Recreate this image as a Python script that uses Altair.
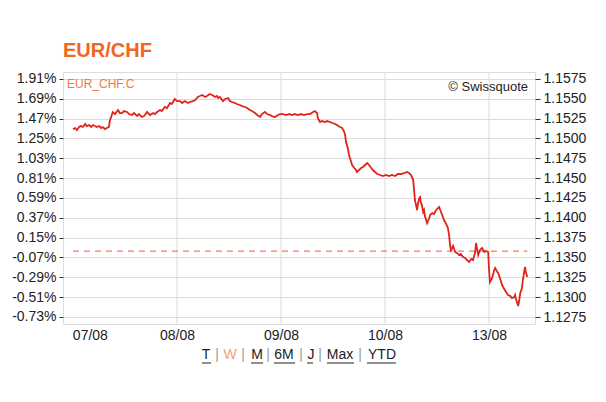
import altair as alt
import pandas as pd

# ---- data (hours since 07/08 00:00, EUR/CHF price) ----
hours = [0.0, 0.5, 0.9, 1.4, 1.8, 2.3, 2.8, 3.2, 3.7, 4.2, 4.6, 5.1, 5.5, 6.0, 6.5, 6.9, 7.4, 7.8, 8.3, 8.5,
         8.8, 9.2, 9.7, 10.2, 10.4, 10.8, 11.3, 11.8, 12.5, 12.9, 13.6, 14.1, 14.8, 15.2, 15.9, 16.4, 16.6, 17.1, 17.3, 17.8,
         18.5, 18.9, 19.4, 20.1, 20.5, 21.2, 21.7, 22.4, 22.8, 23.5, 24.0, 24.7, 25.2, 25.8, 26.5, 27.0, 27.7, 28.2, 28.8, 29.3,
         29.8, 30.5, 30.9, 31.6, 32.1, 32.8, 33.2, 33.5, 33.9, 34.6, 35.1, 35.8, 36.2, 36.7, 37.4, 37.8, 38.5, 39.0, 39.7, 40.2,
         40.8, 41.3, 42.0, 42.5, 43.2, 43.6, 44.3, 44.8, 45.5, 45.9, 46.6, 47.3, 47.8, 48.5, 49.2, 49.9, 50.5, 51.2, 51.9, 52.6,
         53.3, 54.0, 54.7, 55.4, 55.8, 56.3, 56.5, 57.0, 57.5, 58.2, 58.6, 59.3, 59.8, 60.5, 60.9, 61.6, 62.1, 62.5, 62.8, 63.0,
         63.2, 63.5, 63.7, 63.9, 64.2, 64.4, 64.9, 65.3, 65.5, 66.0, 66.5, 66.9, 67.4, 67.9, 68.3, 68.8, 69.2, 69.7, 70.2, 70.9,
         71.5, 72.2, 72.9, 73.6, 74.3, 75.0, 75.7, 76.4, 77.1, 77.5, 78.0, 78.5, 78.7, 78.9, 79.2, 79.4, 79.6, 79.9, 80.1, 80.3,
         80.5, 80.8, 81.0, 81.2, 81.7, 82.2, 82.4, 82.9, 83.3, 83.8, 84.2, 84.5, 84.9, 85.2, 85.6, 86.1, 86.5, 86.8, 87.0, 87.2,
         87.5, 87.7, 88.2, 88.6, 89.1, 89.5, 90.0, 90.5, 90.9, 91.4, 91.9, 92.3, 92.8, 93.0, 93.2, 93.5, 93.9, 94.4, 94.9, 95.3,
         95.8, 96.0, 96.2, 96.7, 97.2, 97.4, 97.9, 98.1, 98.5, 99.0, 99.5, 99.9, 100.4, 100.9, 101.3, 101.8, 102.0, 102.2, 102.5, 102.7,
         102.9, 103.2, 103.6, 103.8, 104.1, 104.3, 104.5, 104.8]
price = [1.15118, 1.15131, 1.15106, 1.15144, 1.15156, 1.15144, 1.15182, 1.15156, 1.15169, 1.15144, 1.15169, 1.15156, 1.15144, 1.15156, 1.15131, 1.15144, 1.15118, 1.15131, 1.15144, 1.15219,
         1.15270, 1.15333, 1.15307, 1.15345, 1.15358, 1.15320, 1.15320, 1.15345, 1.15333, 1.15307, 1.15295, 1.15320, 1.15282, 1.15307, 1.15270, 1.15282, 1.15295, 1.15333, 1.15320, 1.15295,
         1.15320, 1.15307, 1.15333, 1.15358, 1.15345, 1.15396, 1.15383, 1.15446, 1.15434, 1.15497, 1.15471, 1.15471, 1.15446, 1.15471, 1.15446, 1.15459, 1.15471, 1.15484, 1.15522, 1.15534,
         1.15547, 1.15522, 1.15534, 1.15560, 1.15547, 1.15522, 1.15534, 1.15509, 1.15522, 1.15471, 1.15497, 1.15509, 1.15471, 1.15459, 1.15446, 1.15434, 1.15421, 1.15408, 1.15396, 1.15383,
         1.15358, 1.15345, 1.15320, 1.15295, 1.15270, 1.15307, 1.15333, 1.15307, 1.15295, 1.15282, 1.15270, 1.15295, 1.15307, 1.15307, 1.15295, 1.15307, 1.15295, 1.15307, 1.15295, 1.15307,
         1.15295, 1.15307, 1.15307, 1.15333, 1.15345, 1.15320, 1.15257, 1.15207, 1.15219, 1.15207, 1.15219, 1.15207, 1.15194, 1.15182, 1.15169, 1.15144, 1.15131, 1.15093, 1.15043, 1.14955,
         1.14917, 1.14854, 1.14791, 1.14753, 1.14703, 1.14665, 1.14627, 1.14602, 1.14577, 1.14602, 1.14627, 1.14640, 1.14665, 1.14690, 1.14665, 1.14627, 1.14602, 1.14577, 1.14552, 1.14539,
         1.14526, 1.14539, 1.14526, 1.14539, 1.14526, 1.14552, 1.14552, 1.14564, 1.14577, 1.14564, 1.14539, 1.14476, 1.14350, 1.14224, 1.14148, 1.14098, 1.14174, 1.14249, 1.14262, 1.14186,
         1.14161, 1.14073, 1.14098, 1.14022, 1.13934, 1.13997, 1.14035, 1.14060, 1.14048, 1.14098, 1.14123, 1.14136, 1.14073, 1.14035, 1.13972, 1.13922, 1.13872, 1.13771, 1.13657, 1.13594,
         1.13620, 1.13645, 1.13569, 1.13557, 1.13531, 1.13544, 1.13506, 1.13493, 1.13468, 1.13443, 1.13481, 1.13468, 1.13569, 1.13683, 1.13620, 1.13531, 1.13594, 1.13620, 1.13569, 1.13582,
         1.13569, 1.13342, 1.13191, 1.13241, 1.13342, 1.13367, 1.13317, 1.13304, 1.13241, 1.13153, 1.13103, 1.13065, 1.13027, 1.13014, 1.12989, 1.13002, 1.13027, 1.12977, 1.12926, 1.12888,
         1.12939, 1.13052, 1.13116, 1.13216, 1.13317, 1.13380, 1.13317, 1.13254]

day_labels = ["07/08", "08/08", "09/08", "10/08", "13/08"]
day_label_hours = [3.9, 24, 48, 72, 96]
day_grid_hours = [24, 48, 72, 96]
price_ticks = [1.1275, 1.1300, 1.1325, 1.1350, 1.1375, 1.1400, 1.1425, 1.1450,
               1.1475, 1.1500, 1.1525, 1.1550, 1.1575]
pct_ticks = [-0.73, -0.51, -0.29, -0.07, 0.15, 0.37, 0.59, 0.81, 1.03, 1.25, 1.47, 1.69, 1.91]
ref_price = 1.1358
ref_span = [0.0, 104.8]
price_domain = [1.12662, 1.15837]
pct_domain = [-0.8078, 1.9862]
x_domain = [-2.3, 106.6]

nav_labels = ["T", "|", "W", "|", "M", "|", "6M", "|", "J", "|", "Max", "|", "YTD"]
nav_colors = ["#222222", "#999999", "#F4A07A", "#999999", "#222222", "#999999", "#222222",
              "#999999", "#222222", "#999999", "#222222", "#999999", "#222222"]
nav_x = [143, 154, 167, 180, 194, 205, 221, 238, 248, 257, 277, 297, 319]
nav_underline = [(139, 148), None, None, None, (188, 200), None, (211, 232), None, (244, 250),
                 None, (264, 291), None, (304, 333)]

FONT = "Liberation Sans"
RED = "#E2231A"

df = pd.DataFrame({"h": hours, "p": price})

label_expr = ""
for pos, lab in zip(day_label_hours, day_labels):
    label_expr += f"abs(datum.value - {pos}) < 0.01 ? '{lab}' : "
label_expr += "''"

x_axis = alt.Axis(values=day_label_hours, labelExpr=label_expr, grid=False, ticks=False,
                  domain=False, title=None, labelFontSize=14, labelColor="#222222",
                  labelFont=FONT, labelPadding=4)
xs = alt.Scale(domain=x_domain, nice=False, zero=False)
ys = alt.Scale(domain=price_domain, nice=False, zero=False)

price_axis = alt.Axis(orient="right", values=price_ticks, format=".4f", grid=True,
                      gridColor="#DCDCDC", gridWidth=1, domain=False, tickSize=5,
                      tickColor="#333333", labelFontSize=14, labelColor="#222222",
                      labelFont=FONT, labelPadding=3, title=None)

grid = alt.Chart(pd.DataFrame({"h": day_grid_hours})).mark_rule(
    color="#DCDCDC", strokeWidth=1).encode(x=alt.X("h:Q", scale=xs, axis=x_axis))

ref_df = pd.DataFrame({"h": [ref_span[0]], "h2": [ref_span[1]], "p": [ref_price]})
ref = alt.Chart(ref_df).mark_rule(color="#F07A5A", strokeWidth=1.3, strokeDash=[6, 5]).encode(
    x=alt.X("h:Q", scale=xs, axis=x_axis), x2="h2:Q",
    y=alt.Y("p:Q", scale=ys, axis=price_axis))

line = alt.Chart(df).mark_line(color=RED, strokeWidth=1.8).encode(
    x=alt.X("h:Q", scale=xs, axis=x_axis),
    y=alt.Y("p:Q", scale=ys, axis=price_axis))

price_layer = alt.layer(grid, ref, line)

pct_layer = alt.Chart(pd.DataFrame({"pct": pct_ticks})).mark_point(opacity=0).encode(
    y=alt.Y("pct:Q", scale=alt.Scale(domain=pct_domain, nice=False, zero=False),
            axis=alt.Axis(orient="left", values=pct_ticks,
                          labelExpr="(datum.value < 0 ? '-' : '') + format(abs(datum.value), '.2f') + '%'",
                          grid=False, domain=False, tickSize=4, tickColor="#333333",
                          labelFontSize=14, labelColor="#222222", labelFont=FONT,
                          labelPadding=3, title=None)))

ann_df = pd.DataFrame({"a": [0]})
series_lab = alt.Chart(ann_df).mark_text(text="EUR_CHF.C", align="left", baseline="middle",
                                         font=FONT, fontSize=12, color="#F07A45").encode(
    x=alt.value(4), y=alt.value(12))
copy_lab = alt.Chart(ann_df).mark_text(text="© Swissquote", align="right", baseline="middle",
                                       font=FONT, fontSize=13, color="#222222").encode(
    x=alt.value(465), y=alt.value(15))

nav_layers = []
for lab, col, xp, ul in zip(nav_labels, nav_colors, nav_x, nav_underline):
    nav_layers.append(alt.Chart(ann_df).mark_text(text=lab, align="center", baseline="middle",
                                                  font=FONT, fontSize=14, color=col).encode(
        x=alt.value(xp), y=alt.value(283)))
    if ul is not None:
        nav_layers.append(alt.Chart(ann_df).mark_rule(color="#222222", strokeWidth=1).encode(
            x=alt.value(ul[0]), x2=alt.value(ul[1]), y=alt.value(291)))

chart = alt.layer(price_layer, pct_layer, series_lab, copy_lab, *nav_layers).resolve_scale(
    y="independent"
).properties(
    width=472, height=252,
    autosize=alt.AutoSizeParams(type="none"),
    padding={"left": 55, "top": 64, "right": 63, "bottom": 70},
    title=alt.TitleParams("EUR/CHF", anchor="start", fontSize=20, fontWeight="bold",
                          color="#F26522", font=FONT, offset=11, frame="group"),
).configure_view(stroke="#111111", strokeWidth=1.4).configure(background="white")

chart.save("out.html", embed_options={"renderer": "svg", "actions": False})
